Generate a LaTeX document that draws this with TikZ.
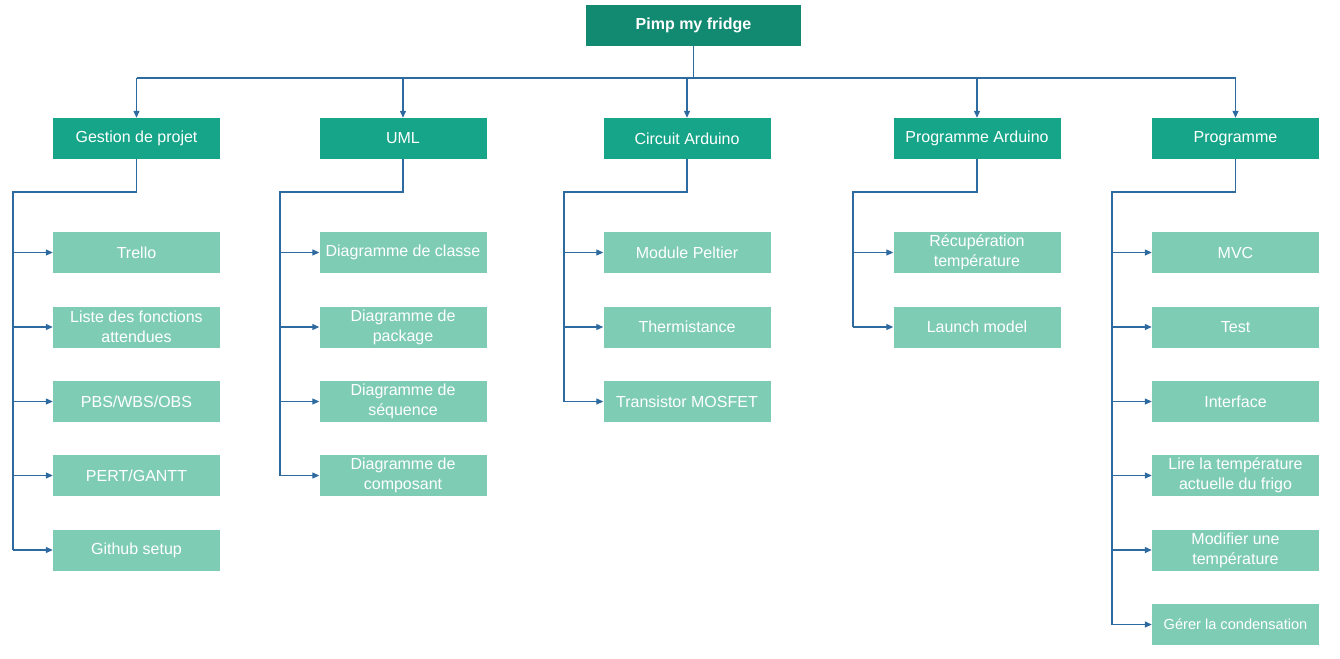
\documentclass[tikz,border=0pt]{standalone}
\usepackage{fontspec}
\setmainfont{Liberation Sans}
\usetikzlibrary{arrows.meta}
\definecolor{rootc}{HTML}{128A71}
\definecolor{lvlc}{HTML}{16A589}
\definecolor{leafc}{HTML}{7FCCB5}
\definecolor{linec}{HTML}{2D6A9F}
\tikzset{
  box/.style={minimum width=167pt, minimum height=41pt, inner sep=0pt, align=center, text=white, font=\fontsize{16}{20}\selectfont},
  rootbox/.style={box, fill=rootc, minimum width=215pt, font=\fontsize{16}{20}\selectfont\bfseries},
  lvlbox/.style={box, fill=lvlc},
  leafbox/.style={box, fill=leafc},
  conn/.style={draw=linec, line width=1.2pt},
  arr/.style={conn, -{Triangle[length=7pt,width=6pt]}},
}
\begin{document}
\begin{tikzpicture}[x=1pt,y=-1pt]
\useasboundingbox (0,0) rectangle (1340,658);
% root
\node[rootbox] (root) at (693.5,25.5) {Pimp my fridge};
% level 1
\node[lvlbox] (g) at (136.5,138.5) {Gestion de projet};
\node[lvlbox] (u) at (403,138.5) {UML};
\node[lvlbox] (c) at (687,138.5) {Circuit Arduino};
\node[lvlbox] (a) at (977,138.5) {Programme Arduino};
\node[lvlbox] (p) at (1235.5,138.5) {Programme};
% bus
\coordinate (bus) at (693.5,78);
\draw[conn] (root.south) -- (bus);
\draw[conn] (g.north |- bus) -- (p.north |- bus);
\foreach \n in {g,u,c,a,p} \draw[arr] (\n.north |- bus) -- (\n.north);
% leaves: Gestion de projet
\node[leafbox] (g1) at (136.5,252.5) {Trello};
\node[leafbox] (g2) at (136.5,327) {Liste des fonctions\\attendues};
\node[leafbox] (g3) at (136.5,401.5) {PBS/WBS/OBS};
\node[leafbox] (g4) at (136.5,475.5) {PERT/GANTT};
\node[leafbox] (g5) at (136.5,550) {Github setup};
% UML
\node[leafbox] (u1) at (403,252.5) {Diagramme de classe};
\node[leafbox] (u2) at (403,327) {Diagramme de\\package};
\node[leafbox] (u3) at (403,401.5) {Diagramme de\\séquence};
\node[leafbox] (u4) at (403,475.5) {Diagramme de\\composant};
% Circuit
\node[leafbox] (c1) at (687,252.5) {Module Peltier};
\node[leafbox] (c2) at (687,327) {Thermistance};
\node[leafbox] (c3) at (687,401.5) {Transistor MOSFET};
% Programme Arduino
\node[leafbox] (a1) at (977,252.5) {Récupération\\température};
\node[leafbox] (a2) at (977,327) {Launch model};
% Programme
\node[leafbox] (p1) at (1235.5,252.5) {MVC};
\node[leafbox] (p2) at (1235.5,327) {Test};
\node[leafbox] (p3) at (1235.5,401.5) {Interface};
\node[leafbox] (p4) at (1235.5,475.5) {Lire la température\\actuelle du frigo};
\node[leafbox] (p5) at (1235.5,550) {Modifier une\\température};
\node[leafbox, font=\fontsize{14.6}{18}\selectfont] (p6) at (1235.5,624.5) {Gérer la condensation};
% trunks
\coordinate (gt) at (13,192);
\coordinate (ut) at (280,192);
\coordinate (ct) at (564,192);
\coordinate (at) at (853,192);
\coordinate (pt) at (1112,192);
\draw[conn] (g.south) |- (gt) -- (gt |- g5.west);
\draw[conn] (u.south) |- (ut) -- (ut |- u4.west);
\draw[conn] (c.south) |- (ct) -- (ct |- c3.west);
\draw[conn] (a.south) |- (at) -- (at |- a2.west);
\draw[conn] (p.south) |- (pt) -- (pt |- p6.west);
\foreach \n in {1,...,5} \draw[arr] (gt |- g\n.west) -- (g\n.west);
\foreach \n in {1,...,4} \draw[arr] (ut |- u\n.west) -- (u\n.west);
\foreach \n in {1,...,3} \draw[arr] (ct |- c\n.west) -- (c\n.west);
\foreach \n in {1,2} \draw[arr] (at |- a\n.west) -- (a\n.west);
\foreach \n in {1,...,6} \draw[arr] (pt |- p\n.west) -- (p\n.west);
\end{tikzpicture}
\end{document}
